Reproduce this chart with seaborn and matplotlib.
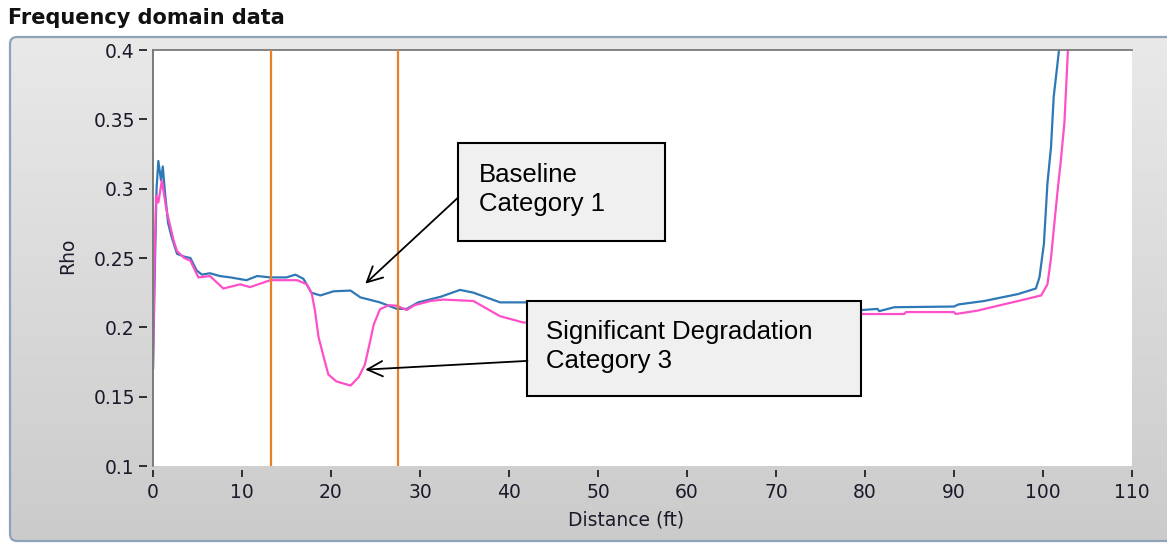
import numpy as np
import pandas as pd
import matplotlib
matplotlib.use("Agg")
import matplotlib.pyplot as plt
import seaborn as sns
from matplotlib.patches import Rectangle, FancyBboxPatch
from matplotlib.colors import LinearSegmentedColormap
from matplotlib.lines import Line2D

# ---------------- data ----------------
dist_baseline = [0, 0.2, 0.4, 0.6, 0.9, 1.1, 1.35, 1.7, 2.1, 2.7, 3.5, 4.2, 4.9, 5.5,
                 6.4, 7.5, 8.7, 10.5, 11.7, 13.2, 15, 16, 16.9, 17.8, 18.8, 20.3, 22.2,
                 23.3, 25.5, 27.4, 28.5, 29.8, 32.3, 34.5, 36, 39, 42, 50, 60, 70, 79.7,
                 81.4, 81.6, 83.3, 90, 90.5, 93.4, 97.2, 99.2, 99.6, 100.1, 100.5, 100.9,
                 101.2, 101.8, 102.2]
rho_baseline = [0.17, 0.24, 0.30, 0.32, 0.306, 0.316, 0.297, 0.275, 0.265, 0.253, 0.251,
                0.25, 0.241, 0.238, 0.239, 0.237, 0.236, 0.234, 0.237, 0.236, 0.236, 0.238,
                0.235, 0.225, 0.223, 0.226, 0.2265, 0.2216, 0.218, 0.2133, 0.2133, 0.218,
                0.222, 0.227, 0.225, 0.218, 0.218, 0.218, 0.2165, 0.214, 0.2125, 0.2133,
                0.2117, 0.2145, 0.215, 0.2165, 0.219, 0.224, 0.228, 0.236, 0.26, 0.304,
                0.33, 0.366, 0.4, 0.44]

dist_degraded = [0, 0.15, 0.35, 0.6, 1.0, 1.5, 2.3, 2.7, 3.5, 4.2, 5.1, 6.4, 7.9, 9.8,
                 10.9, 13.2, 16.2, 17.3, 17.85, 18.2, 18.6, 19.2, 19.7, 20.6, 22.2, 23.1,
                 23.8, 24.4, 24.8, 25.5, 26.5, 27.4, 28.5, 29.4, 31.2, 32.6, 36, 39, 41.6,
                 45, 55, 65, 75, 79.7, 84.4, 84.6, 90, 90.2, 92.6, 97.2, 99.8, 100.5,
                 100.9, 101.2, 101.6, 102, 102.4, 102.6, 102.8, 103.1]
rho_degraded = [0.17, 0.24, 0.295, 0.29, 0.306, 0.285, 0.263, 0.255, 0.25, 0.248, 0.236,
                0.237, 0.228, 0.231, 0.229, 0.234, 0.234, 0.231, 0.224, 0.212, 0.193,
                0.178, 0.166, 0.161, 0.158, 0.164, 0.173, 0.19, 0.202, 0.213, 0.216,
                0.2156, 0.2125, 0.216, 0.219, 0.22, 0.219, 0.208, 0.2035, 0.203, 0.205,
                0.207, 0.209, 0.2096, 0.2096, 0.211, 0.211, 0.2096, 0.212, 0.219, 0.223,
                0.231, 0.25, 0.27, 0.296, 0.32, 0.347, 0.373, 0.4, 0.44]

cursor_positions = [13.25, 27.5]
xtick_values = [0, 10, 20, 30, 40, 50, 60, 70, 80, 90, 100, 110]
ytick_values = [0.1, 0.15, 0.2, 0.25, 0.3, 0.35, 0.4]
ytick_labels = ["0.1", "0.15", "0.2", "0.25", "0.3", "0.35", "0.4"]

title_text = "Frequency domain data"
xlabel_text = "Distance (ft)"
ylabel_text = "Rho"
note_baseline = "Baseline\nCategory 1"
note_degraded = "Significant Degradation\nCategory 3"

# ---------------- style ----------------
sns.set_theme(style="white")
plt.rcParams["font.family"] = ["DejaVu Sans"]

W, H = 1167, 544
fig = plt.figure(figsize=(W / 100, H / 100), dpi=100, facecolor="white")

# background panel (gradient gray with rounded steel-blue border)
bg = fig.add_axes([0, 0, 1, 1], zorder=-10)
bg.set_axis_off()
grad = np.linspace(0, 1, 256).reshape(-1, 1)
cmap = LinearSegmentedColormap.from_list("panel", ["#e9e9e9", "#cbcbcb"])
panel = FancyBboxPatch((10, 37), 1200, 504, boxstyle="round,pad=0,rounding_size=7",
                       facecolor="none", edgecolor="#8ea2b8", linewidth=1.6)
im = bg.imshow(grad, extent=[10, 1210, 541, 37], aspect="auto", cmap=cmap)
bg.add_patch(panel)
im.set_clip_path(panel)
bg.set_xlim(0, W)
bg.set_ylim(H, 0)
fig.text(8 / W, 1 - 18 / H, title_text, fontsize=15, fontweight="bold",
         color="#111111", ha="left", va="center")

# plot area
left, right, top, bottom = 153, 1132, 50, 466
ax = fig.add_axes([left / W, 1 - bottom / H, (right - left) / W, (bottom - top) / H])
ax.set_facecolor("white")

blue = "#2f78b6"
pink = "#ff4fc8"
orange = "#e8802a"

sns.lineplot(x=dist_baseline, y=rho_baseline, ax=ax, color=blue, linewidth=1.6,
             estimator=None, sort=False, zorder=2)
sns.lineplot(x=dist_degraded, y=rho_degraded, ax=ax, color=pink, linewidth=1.6,
             estimator=None, sort=False, zorder=2.1)
for cx in cursor_positions:
    ax.axvline(cx, color=orange, linewidth=1.6, zorder=3)

ax.set_xlim(0, 110)
ax.set_ylim(0.1, 0.4)
ax.set_xticks(xtick_values)
ax.set_xticklabels([str(v) for v in xtick_values])
ax.set_yticks(ytick_values)
ax.set_yticklabels(ytick_labels)

ax.spines["right"].set_visible(False)
ax.spines["top"].set_color("#707070")
ax.spines["top"].set_linewidth(1.2)
ax.spines["bottom"].set_position(("outward", 3))
ax.spines["bottom"].set_visible(False)
ax.spines["left"].set_position(("outward", 4.3))
ax.spines["left"].set_visible(False)
ax.add_line(Line2D([0, 0], [0, 1], transform=ax.transAxes, color="#7a7a7a",
                   linewidth=1.4, clip_on=False, zorder=5))

ax.tick_params(axis="both", which="major", direction="out", colors="#222222",
               labelcolor="#1a1a2a", labelsize=13.5, width=1.3,
               left=True, bottom=True, top=False, right=False)
ax.tick_params(axis="y", length=5.8, pad=3)
ax.tick_params(axis="x", length=5.0, pad=4)
ax.grid(False)

ax.set_xlabel(xlabel_text, fontsize=13.5, color="#1a1a2a")
ax.set_ylabel(ylabel_text, fontsize=13.5, color="#1a1a2a")
ax.xaxis.set_label_coords(0.483, -0.108)
ax.yaxis.set_label_coords(-0.078, 0.505)

# annotation boxes
box_kw = dict(facecolor="#f0f0f0", edgecolor="black", linewidth=1.5, zorder=6, clip_on=False)
ax.add_patch(Rectangle((34.3, 0.2626), 23.2, 0.0702, **box_kw))
ax.add_patch(Rectangle((42.07, 0.1505), 37.43, 0.0687, **box_kw))
ax.text(36.6, 0.2995, note_baseline, fontsize=18.5, family="Liberation Sans",
        color="black", ha="left", va="center", zorder=7, linespacing=1.3)
ax.text(44.2, 0.1862, note_degraded, fontsize=18.5, family="Liberation Sans",
        color="black", ha="left", va="center", zorder=7, linespacing=1.3)

arrow_kw = dict(arrowstyle="->,head_length=0.5,head_width=0.25", color="black",
                linewidth=1.3, shrinkA=0, shrinkB=0, mutation_scale=22)
ax.annotate("", xy=(23.85, 0.2315), xytext=(34.3, 0.2937), arrowprops=arrow_kw, zorder=7)
ax.annotate("", xy=(23.85, 0.1695), xytext=(42.07, 0.1758), arrowprops=arrow_kw, zorder=7)

fig.savefig("out.png", dpi=100, facecolor="white")
